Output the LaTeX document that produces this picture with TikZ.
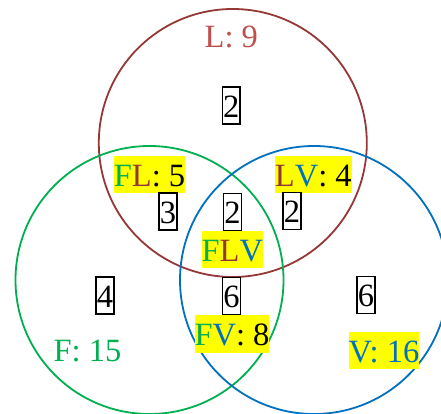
\documentclass[tikz,border=0pt]{standalone}
\usepackage{fontspec}
\setmainfont{Liberation Serif}
\definecolor{lred}{HTML}{953735}
\definecolor{lredlight}{HTML}{C0504D}
\definecolor{fgreen}{HTML}{00B050}
\definecolor{vblue}{HTML}{0070C0}
\definecolor{hlyellow}{HTML}{FFFF00}
\begin{document}
\begin{tikzpicture}[x=1pt,y=-1pt,
  every node/.style={font=\fontsize{32.5}{39}\selectfont, inner sep=0pt,
    text height=30.5pt, text depth=6.6pt},
  setcircle/.style={line width=1.8pt},
  numbox/.style={draw=black, line width=1.7pt, inner xsep=0.8pt},
  hl/.style={fill=hlyellow}]
\useasboundingbox (0,0) rectangle (441,414);
\clip (0,0) rectangle (441,414);

% the three sets
\draw[setcircle, lred]   (232.8,143) circle[radius=134];
\draw[setcircle, fgreen] (149.5,280) circle[radius=134];
\draw[setcircle, vblue]  (314,280)   circle[radius=134];

% set totals and overlap labels
\node[anchor=base, text=lredlight] (Ltot) at (231.3,48) {L: 9};
\node[anchor=base, text=fgreen] (Ftot) at (87.5,361.7) {F: 15};
\node[hl] (Vtot) at (384,350.5) {\textcolor{vblue}{V: 16}};
\node[hl] (FLtot) at (149.5,174.5) {\textcolor{fgreen}{F}\textcolor{lred}{L}: 5};
\node[hl] (LVtot) at (313.3,174.5) {\textcolor{lred}{L}\textcolor{vblue}{V}: 4};
\node[hl] (FVtot) at (232,334) {\textcolor{fgreen}{F}\textcolor{vblue}{V}: 8};
\node[hl] (FLV) at (232.3,249.5) {\textcolor{fgreen}{F}\textcolor{lred}{L}\textcolor{vblue}{V}};

% region counts
\node[numbox] (nL)   at (231.3,105.7) {2};
\node[numbox] (nFL)  at (168,211.5)   {3};
\node[numbox] (nFLV) at (232.5,212)   {2};
\node[numbox] (nLV)  at (292,211)     {2};
\node[numbox] (nF)   at (105,295.3)   {4};
\node[numbox] (nFV)  at (231.5,296)   {6};
\node[numbox] (nV)   at (366,295)     {6};
\end{tikzpicture}
\end{document}
